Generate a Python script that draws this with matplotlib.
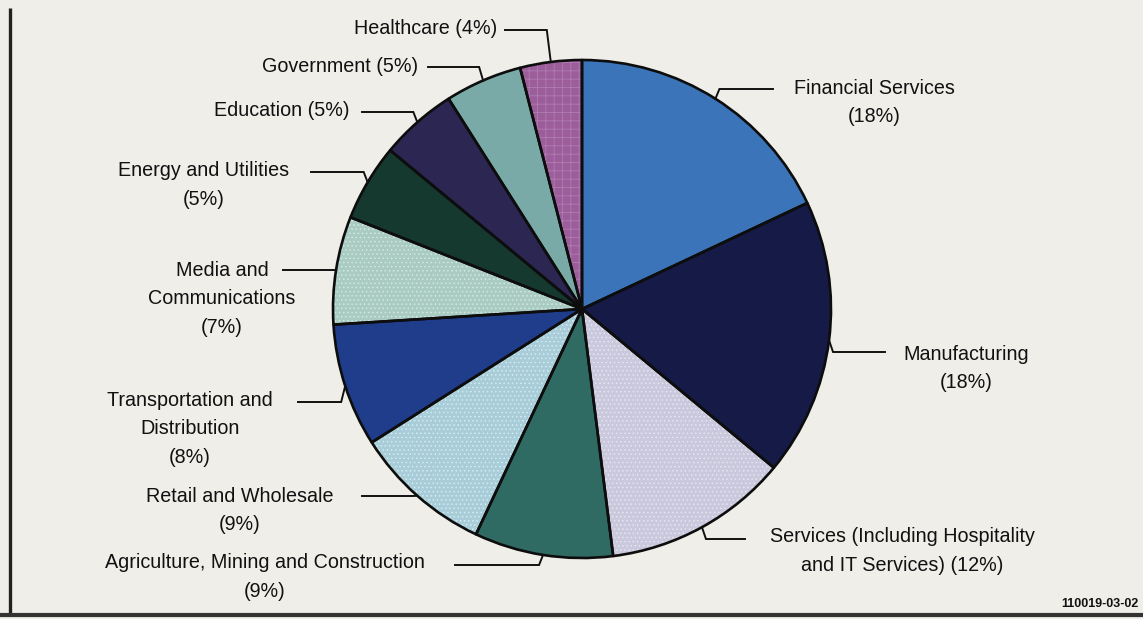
import matplotlib
matplotlib.use("Agg")
import matplotlib.pyplot as plt
from matplotlib.patches import Wedge
import numpy as np

# ---- data -------------------------------------------------------------
categories = [
    "Financial Services",
    "Manufacturing",
    "Services (Including Hospitality\nand IT Services)",
    "Agriculture, Mining and Construction",
    "Retail and Wholesale",
    "Transportation and\nDistribution",
    "Media and\nCommunications",
    "Energy and Utilities",
    "Education",
    "Government",
    "Healthcare",
]
shares = [18, 18, 12, 9, 9, 8, 7, 5, 5, 5, 4]
# separator placed between the category name and its percentage
pct_sep = ["\n", "\n", " ", "\n", "\n", "\n", "\n", "\n", " ", " ", " "]

colors = ["#3b74b8", "#151a47", "#c9c8dc", "#2f6b62", "#a8cdd9", "#203d8c",
          "#a9cbc2", "#15392f", "#2b2652", "#79aaa7", "#9b5e9b"]
# overlay texture: (hatch, hatch colour) or None
textures = [None, None, ("....", "#e6e6f0"), None, ("....", "#d4eaf0"), None,
            ("....", "#d2e8e0"), None, None, None, ("++", "#b07cb0")]

# ---- layout (pixel coordinates, y measured from top) ------------------
W, H = 1143, 619
CX, CY, R = 582, 309, 249
# text x, first-line y, alignment, leader line y, leader end x
label_layout = [
    (874, 88, "center", 89, 773),
    (966, 354, "center", 352, 885),
    (902, 537, "center", 539, 745),
    (265, 563, "center", 565, 455),
    (240, 496, "center", 496, 362),
    (190, 400, "center", 402, 298),
    (222, 270, "center", 270, 283),
    (204, 171, "center", 172, 311),
    (350, 110, "right", 112, 362),
    (418, 67, "right", 67, 428),
    (497, 28, "right", 30, 505),
]
LINE_PITCH = 28.7
FONT = ["Liberation Sans", "DejaVu Sans"]
BG = "#efeee9"
plt.rcParams["hatch.linewidth"] = 0.6


def yp(y):
    """Convert a top-based pixel y into data y."""
    return H - y


fig = plt.figure(figsize=(W / 100, H / 100), dpi=100, facecolor=BG)
ax = fig.add_axes([0, 0, 1, 1])
ax.set_facecolor(BG)

wedges, _ = ax.pie(
    shares, colors=colors, startangle=90, counterclock=False,
    center=(CX, yp(CY)), radius=R,
    wedgeprops=dict(linewidth=0),
)

# textures and outlines built from the pie's own wedge geometry
for w, tex in zip(wedges, textures):
    if tex is not None:
        hatch, hcol = tex
        ax.add_patch(Wedge(w.center, w.r, w.theta1, w.theta2,
                           facecolor="none", edgecolor=hcol, linewidth=0,
                           hatch=hatch, zorder=2))
for w in wedges:
    ax.add_patch(Wedge(w.center, w.r, w.theta1, w.theta2,
                       facecolor="none", edgecolor="#0d0d0d",
                       linewidth=1.9, zorder=3, joinstyle="round"))

# labels with elbow leader lines
for w, cat, v, sep, lay in zip(wedges, categories, shares, pct_sep, label_layout):
    tx, ty, ha, ly, lx = lay
    mid = np.deg2rad((w.theta1 + w.theta2) / 2)
    ax_x = w.center[0] + w.r * np.cos(mid)
    ax_y = w.center[1] + w.r * np.sin(mid)
    side = 1 if lx > ax_x else -1
    elbow_x = ax_x + side * 4
    ax.plot([ax_x, elbow_x, lx], [ax_y, yp(ly), yp(ly)],
            color="#111111", linewidth=1.4, zorder=4,
            solid_joinstyle="miter")
    lines = f"{cat}{sep}({v}%)".split("\n")
    for i, line in enumerate(lines):
        ax.text(tx, yp(ty + i * LINE_PITCH), line, ha=ha, va="center",
                fontsize=14.2, family=FONT, color="#111111", zorder=5)

# figure id in the corner
ax.text(1138, yp(604), "110019-03-02", ha="right", va="center",
        fontsize=9, family=FONT, weight="bold", color="#111111")

# frame rules on the left and bottom
ax.plot([10, 10], [yp(8), yp(615)], color="#222222", linewidth=2.4,
        solid_capstyle="butt")
ax.plot([0, W], [yp(615), yp(615)], color="#333333", linewidth=3.0,
        solid_capstyle="butt")

ax.set_xlim(0, W)
ax.set_ylim(0, H)
ax.set_aspect("equal")
ax.axis("off")

fig.savefig("out.png", dpi=100, facecolor=BG)
